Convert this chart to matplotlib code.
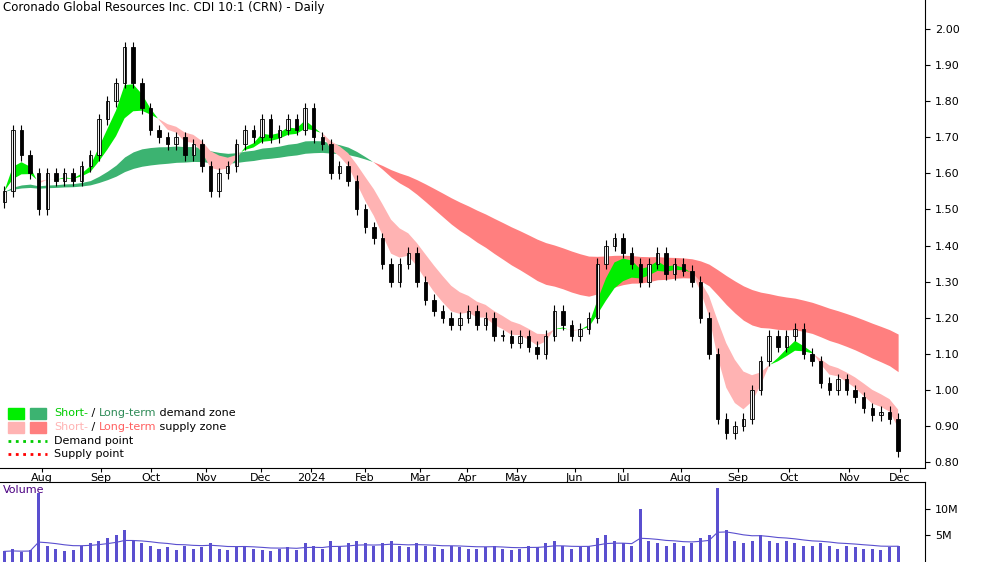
import numpy as np
import matplotlib.pyplot as plt
from matplotlib.patches import Rectangle
from matplotlib.lines import Line2D

# closes, one candle per ~3.5 trading days, Jul 2023 -> Dec 2024
closes = [1.55, 1.72, 1.65, 1.60, 1.50, 1.60, 1.58, 1.60, 1.58, 1.62,
          1.65, 1.75, 1.80, 1.85, 1.95, 1.85, 1.78, 1.72, 1.70, 1.68,
          1.70, 1.65, 1.68, 1.62, 1.55, 1.60, 1.62, 1.68, 1.72, 1.70,
          1.75, 1.70, 1.72, 1.75, 1.72, 1.78, 1.70, 1.68, 1.60, 1.62,
          1.58, 1.50, 1.45, 1.42, 1.35, 1.30, 1.35, 1.38, 1.30, 1.25,
          1.22, 1.20, 1.18, 1.20, 1.22, 1.18, 1.20, 1.15, 1.15, 1.13,
          1.15, 1.12, 1.10, 1.15, 1.22, 1.18, 1.15, 1.17, 1.20, 1.35,
          1.40, 1.42, 1.38, 1.35, 1.30, 1.35, 1.38, 1.32, 1.35, 1.33,
          1.30, 1.20, 1.10, 0.92, 0.88, 0.90, 0.92, 1.00, 1.08, 1.15,
          1.12, 1.15, 1.17, 1.10, 1.08, 1.02, 1.00, 1.03, 1.00, 0.98,
          0.95, 0.93, 0.94, 0.92, 0.83]
volumes = [2.0, 2.5, 1.8, 2.2, 13.0, 3.0, 2.5, 2.0, 2.2, 3.0,
           3.5, 4.0, 4.5, 5.0, 6.0, 4.0, 3.5, 3.0, 2.5, 2.8,
           2.2, 3.0, 2.5, 2.8, 3.5, 2.5, 2.2, 2.8, 3.0, 2.5,
           2.2, 2.0, 2.5, 2.8, 2.2, 3.5, 3.0, 2.5, 4.0, 3.0,
           3.5, 4.0, 3.5, 3.0, 3.5, 4.0, 3.0, 2.8, 3.5, 3.0,
           2.8, 2.5, 3.0, 2.8, 2.5, 2.5, 2.8, 3.0, 2.5, 2.2,
           2.5, 3.0, 2.8, 3.5, 4.0, 3.0, 2.5, 2.8, 3.0, 4.5,
           5.0, 4.0, 3.5, 3.0, 10.0, 4.0, 3.5, 3.0, 3.5, 3.0,
           3.5, 4.5, 5.0, 14.0, 6.0, 4.0, 3.5, 4.0, 5.0, 4.0,
           3.5, 4.0, 3.5, 3.0, 3.0, 3.5, 3.0, 2.5, 3.0, 2.8,
           2.5, 2.5, 2.2, 2.8, 3.0]
month_labels = ['Aug', 'Sep', 'Oct', 'Nov', 'Dec', '2024', 'Feb', 'Mar', 'Apr', 'May',
                'Jun', 'Jul', 'Aug', 'Sep', 'Oct', 'Nov', 'Dec']
month_px = [38, 97, 147, 203, 258, 308, 362, 418, 465, 515, 573, 622, 680, 737, 788, 849, 900]

c = np.array(closes)
o = np.r_[c[0] - 0.03, c[:-1]]
n = len(c)
x = np.arange(n)
k = (n - 1) / 898.0


def ema(v, span):
    a = 2 / (span + 1)
    out = [v[0]]
    for val in v[1:]:
        out.append(a * val + (1 - a) * out[-1])
    return np.array(out)


s1, s2 = ema(c, 4), ema(c, 9)
l1, l2 = ema(c, 28), ema(c, 55)

fig = plt.figure(figsize=(10, 5.62), dpi=100)
ax = fig.add_axes([0.0, 0.168, 0.925, 0.832])
axv = fig.add_axes([0.0, 0.0, 0.925, 0.142])

xlim = (-0.5, 925 * k)
# long-term zone
ax.fill_between(x, l1, l2, where=l1 >= l2, color='#3cb371', interpolate=True, lw=0)
ax.fill_between(x, l1, l2, where=l1 < l2, color='#ff7f7f', interpolate=True, lw=0)
# short-term zone
ax.fill_between(x, s1, s2, where=s1 >= s2, color='#00ee00', interpolate=True, lw=0)
ax.fill_between(x, s1, s2, where=s1 < s2, color='#ffb3b3', interpolate=True, lw=0)

for i in range(n):
    hi, lo = max(o[i], c[i]), min(o[i], c[i])
    ax.vlines(x[i], lo - 0.015, hi + 0.015, color='black', lw=0.8)
    ax.add_patch(Rectangle((x[i] - 0.2, lo), 0.4, max(hi - lo, 0.003),
                           facecolor='white' if c[i] >= o[i] else 'black',
                           edgecolor='black', lw=0.6))

ax.set_xlim(*xlim)
ax.set_ylim(0.785, 2.08)
ax.yaxis.tick_right()
ax.set_yticks(np.arange(0.8, 2.01, 0.1))
ax.set_yticklabels(['%.2f' % v for v in np.arange(0.8, 2.01, 0.1)], fontsize=8)
ax.set_xticks([p * k for p in month_px])
ax.set_xticklabels(month_labels, fontsize=8)
ax.tick_params(axis='x', length=3, pad=1)
for s in ['top', 'left']:
    ax.spines[s].set_visible(False)
ax.text(0.003, 0.998, 'Coronado Global Resources Inc. CDI 10:1 (CRN) - Daily',
        transform=ax.transAxes, va='top', fontsize=8.5)

# legend
lx, ly = 8, 413
def px(xp, yp):
    return xp / 1000, 1 - yp / 562
for j, (col1, col2) in enumerate([('#00ee00', '#3cb371'), ('#ffb3b3', '#ff7f7f')]):
    yy = ly + j * 14
    for m, col in enumerate([col1, col2]):
        fig.patches.append(Rectangle(px(lx + m * 22, yy + 6), 0.016, 0.02,
                                     transform=fig.transFigure, color=col))
t1 = [('Short-', '#00cc00'), (' / ', 'black'), ('Long-term', '#2e8b57'), (' demand zone', 'black')]
t2 = [('Short-', '#ffb3b3'), (' / ', 'black'), ('Long-term', '#ff6060'), (' supply zone', 'black')]
for j, parts in enumerate([t1, t2]):
    xt = 54
    for txt, col in parts:
        t = fig.text(*px(xt, ly + j * 14), txt, color=col, fontsize=8, va='center')
        fig.canvas.draw()
        xt += t.get_window_extent().width
for j, (lab, col) in enumerate([('Demand point', '#00cc00'), ('Supply point', 'red')]):
    yy = ly + 28 + j * 13
    fig.lines.append(Line2D([0.008, 0.047], [1 - yy / 562] * 2, transform=fig.transFigure,
                            color=col, ls=':', lw=2))
    fig.text(*px(54, yy), lab, fontsize=8, va='center')

# volume
axv.bar(x, volumes, width=0.35, color='#5a4fcf')
axv.plot(x, ema(np.array(volumes), 12), color='#5a4fcf', lw=0.8)
axv.set_xlim(*xlim)
axv.set_ylim(0, 15)
axv.yaxis.tick_right()
axv.set_yticks([5, 10])
axv.set_yticklabels(['5M', '10M'], fontsize=8)
axv.set_xticks([])
for s in ['left', 'bottom']:
    axv.spines[s].set_visible(False)
axv.text(0.003, 0.96, 'Volume', transform=axv.transAxes, va='top', fontsize=8, color='#4b0082')

fig.savefig('out.png', dpi=100)
